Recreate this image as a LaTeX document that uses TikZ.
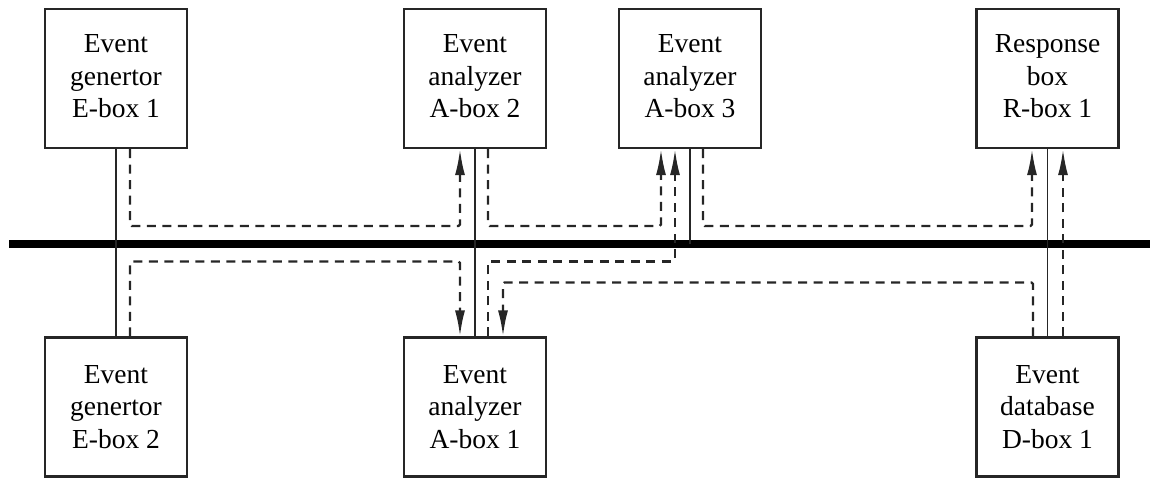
\documentclass[tikz,border=0pt]{standalone}
\usepackage{fontspec}
\setmainfont{Liberation Serif}
\usetikzlibrary{arrows.meta,calc}
\begin{document}
\begin{tikzpicture}[x=1pt,y=-1pt,
  box/.style={draw=black!85,line width=2.2pt,minimum width=142pt,minimum height=139pt,inner sep=0pt,align=center,font=\fontsize{27.5}{32.5}\selectfont,text=black},
  topbox/.style={box,text depth=5pt},
  link/.style={draw=black!85,line width=1.8pt},
  bus/.style={draw=black,line width=8pt},
  msg/.style={draw=black!85,line width=2.3pt,dash pattern=on 9pt off 6.5pt,rounded corners=1.5pt},
  msgarrow/.style={msg,-{Latex[length=26pt,width=10pt]}}]
\useasboundingbox (0,0) rectangle (1150,478);

% boxes
\node[topbox] (E1) at (116,78.5) {Event\\genertor\\E-box 1};
\node[topbox] (A2) at (475,78.5) {Event\\analyzer\\A-box 2};
\node[topbox] (A3) at (690,78.5) {Event\\analyzer\\A-box 3};
\node[topbox] (R1) at (1047.5,78.5) {Response\\box\\R-box 1};
\node[box] (E2) at (116,407) {Event\\genertor\\E-box 2};
\node[box] (A1) at (475,407) {Event\\analyzer\\A-box 1};
\node[box] (D1) at (1047.5,407) {Event\\database\\D-box 1};

% bus
\coordinate (busL) at (9,244);
\coordinate (busR) at (1150,244);
\draw[bus] (busL) -- (busR);

% solid attachments
\draw[link] (E1) -- (E2);
\draw[link] (A2) -- (A1);
\draw[link] (A3.south) -- (A3.south |- busL);
\draw[link] (R1) -- (D1);

% dashed messages
\draw[msgarrow] ([xshift=14pt]E1.south) -- ++(0,77) -| ([xshift=-15pt]A2.south);
\draw[msgarrow] ([xshift=14pt]E2.north) -- ++(0,-75) -| ([xshift=-15pt]A1.north);
\draw[msgarrow] ([xshift=13pt]A2.south) -- ++(0,77) -| ([xshift=-29pt]A3.south);
\draw[msgarrow] ([xshift=13pt]A1.north) -- ++(0,-75) -| ([xshift=-15pt]A3.south);
\draw[msgarrow] ([xshift=13pt]A3.south) -- ++(0,77) -| ([xshift=-15.5pt]R1.south);
\draw[msgarrow] ([xshift=-14.5pt]D1.north) -- ++(0,-54) -| ([xshift=28pt]A1.north);
\draw[msgarrow] ([xshift=15.5pt]D1.north) -- ([xshift=15.5pt]R1.south);
\end{tikzpicture}
\end{document}
